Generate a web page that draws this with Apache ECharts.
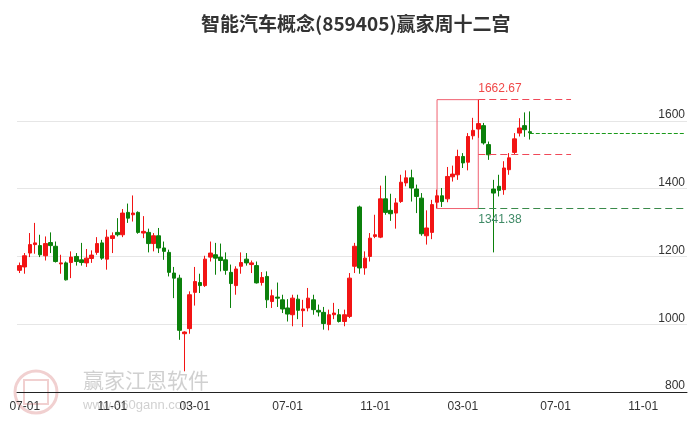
<!DOCTYPE html>
<html><head><meta charset="utf-8">
<script src="https://cdn.jsdelivr.net/npm/echarts@6/dist/echarts.min.js"></script>
<style>html,body{margin:0;padding:0;background:#fff}#c{width:689px;height:427px}</style>
</head><body><div id="c"></div>
<script>
// weekly categories (Monday of each trading week; holiday-closed weeks omitted)
const weeks = [
'2023-06-19','2023-06-26','2023-07-03','2023-07-10','2023-07-17','2023-07-24','2023-07-31','2023-08-07','2023-08-14','2023-08-21',
'2023-08-28','2023-09-04','2023-09-11','2023-09-18','2023-09-25','2023-10-09','2023-10-16','2023-10-23','2023-10-30','2023-11-06',
'2023-11-13','2023-11-20','2023-11-27','2023-12-04','2023-12-11','2023-12-18','2023-12-25','2024-01-01','2024-01-08','2024-01-15',
'2024-01-22','2024-01-29','2024-02-05','2024-02-19','2024-02-26','2024-03-04','2024-03-11','2024-03-18','2024-03-25','2024-04-01',
'2024-04-08','2024-04-15','2024-04-22','2024-04-29','2024-05-06','2024-05-13','2024-05-20','2024-05-27','2024-06-03','2024-06-10',
'2024-06-17','2024-06-24','2024-07-01','2024-07-08','2024-07-15','2024-07-22','2024-07-29','2024-08-05','2024-08-12','2024-08-19',
'2024-08-26','2024-09-02','2024-09-09','2024-09-16','2024-09-23','2024-09-30','2024-10-07','2024-10-14','2024-10-21','2024-10-28',
'2024-11-04','2024-11-11','2024-11-18','2024-11-25','2024-12-02','2024-12-09','2024-12-16','2024-12-23','2024-12-30','2025-01-06',
'2025-01-13','2025-01-20','2025-01-27','2025-02-03','2025-02-10','2025-02-17','2025-02-24','2025-03-03','2025-03-10','2025-03-17',
'2025-03-24','2025-03-31','2025-04-07','2025-04-14','2025-04-21','2025-04-28','2025-05-05','2025-05-12','2025-05-19','2025-05-26',
'2025-06-02','2025-06-09','2025-06-16','2025-06-23','2025-06-30','2025-07-07','2025-07-14','2025-07-21','2025-07-28','2025-08-04',
'2025-08-11','2025-08-18','2025-08-25','2025-09-01','2025-09-08','2025-09-15','2025-09-22','2025-09-29','2025-10-06','2025-10-13',
'2025-10-20','2025-10-27','2025-11-03','2025-11-10','2025-11-17','2025-11-24','2025-12-01','2025-12-08','2025-12-15','2025-12-22'
];
const opens = [
1159,1169,1210,1235,1232,1202,1241,1230,1178,1181,
1182,1200,1190,1181,1194,1212,1240,1192,1253,1271,
1264,1330,1323,1330,1269,1271,1238,1261,1225,1212,
1151,1136,972,987,1094,1123,1114,1198,1205,1198,
1190,1153,1114,1171,1192,1176,1173,1123,1141,1067,
1080,1072,1048,1028,1074,1040,1048,1072,1041,1035,
999,1028,1028,1008,1023,1171,1346,1166,1200,1259,
1257,1370,1336,1328,1362,1417,1432,1399,1372,1261,
1271,1360,1379,1370,1435,1441,1495,1478,1556,1576,
1586,1530,1399,1407,1397,1456,1507,1564,1586,1568];
const closes = [
1173,1202,1235,1240,1205,1238,1232,1185,1181,1131,
1198,1185,1182,1195,1204,1238,1195,1257,1261,1264,
1328,1313,1328,1271,1274,1238,1261,1225,1215,1153,
1136,982,977,1087,1126,1114,1192,1210,1195,1188,
1159,1120,1163,1182,1181,1181,1122,1138,1072,1084,
1077,1045,1030,1077,1041,1045,1077,1043,1036,1002,
1028,1033,1008,1028,1136,1230,1166,1195,1254,1264,
1370,1330,1326,1358,1419,1432,1402,1377,1267,1284,
1353,1379,1362,1436,1443,1495,1476,1554,1572,1592,
1535,1500,1387,1395,1461,1491,1547,1579,1574,1565];
const lows = [
1151,1149,1198,1208,1198,1188,1210,1182,1149,1129,
1136,1173,1173,1169,1181,1205,1190,1161,1210,1259,
1257,1299,1303,1267,1254,1212,1215,1210,1190,1141,
1077,954,861,972,1055,1092,1110,1185,1146,1156,
1146,1048,1087,1149,1173,1151,1120,1114,1048,1048,
1051,1033,1008,994,1015,992,1038,1028,1023,984,
982,1015,1005,994,1018,1151,1149,1146,1185,1254,
1254,1323,1305,1282,1358,1407,1362,1328,1261,1235,
1251,1341.38,1346,1360,1421,1426,1461,1454,1545,1550,
1530,1485,1212,1377,1382,1441,1500,1554,1553,1545];
const highs = [
1182,1210,1269,1299,1264,1259,1271,1244,1205,1185,
1215,1210,1240,1222,1218,1257,1249,1279,1271,1313,
1340,1356,1380,1333,1319,1282,1269,1284,1244,1220,
1169,1146,979,1097,1169,1149,1202,1244,1240,1238,
1212,1176,1171,1212,1210,1188,1185,1154,1156,1102,
1123,1087,1074,1087,1087,1072,1107,1087,1058,1051,
1043,1063,1045,1043,1151,1240,1350,1215,1269,1323,
1409,1438,1385,1372,1441,1454,1456,1412,1387,1336,
1367,1397,1402,1464,1468,1515,1505,1564,1609,1662.67,
1594,1539,1426,1441,1481,1505,1564,1608,1625,1628];
const tickMonths = ['03','07','11'];
const lowIdx = 81, highIdx = 89, lineEndIdx = 107;
const title = '智能汽车概念(859405)赢家周十二宫';

function tickLabel(idx){
  const s = weeks[idx]; if(!s) return null;
  const d0 = new Date(s + 'T00:00:00Z');
  for(let k=0;k<7;k++){
    const d = new Date(d0.getTime() + k*86400000);
    const m = String(d.getUTCMonth()+1).padStart(2,'0');
    if(d.getUTCDate()===1 && tickMonths.indexOf(m)>=0) return m + '-01';
  }
  return null;
}
const highV = highs[highIdx], lowV = lows[lowIdx], midV = (highV+lowV)/2;
const lastIdx = closes.length-1, lastClose = closes[lastIdx], endIdx = weeks.length-1;
const kdata = opens.map((o,i)=>[o, closes[i], lows[i], highs[i]]);
const red='#f21414', green='#0b800b';

const chart = echarts.init(document.getElementById('c'));
chart.setOption({
  animation:false,
  backgroundColor:'#fff',
  title:{text:title,left:196,top:9,textStyle:{fontSize:19,fontWeight:'bold',color:'#333',fontFamily:'Noto Sans CJK SC'}},
  grid:{left:17,right:2,top:87,bottom:35},
  graphic:[
    {type:'circle',z:-10,shape:{cx:36,cy:392,r:21},style:{fill:'none',stroke:'rgba(215,120,120,0.35)',lineWidth:3}},
    {type:'rect',z:-10,shape:{x:24,y:380,width:24,height:24},style:{fill:'none',stroke:'rgba(215,120,120,0.35)',lineWidth:2}},
    {type:'text',z:-10,left:83,top:370,style:{text:'赢家江恩软件',font:'21px "Noto Sans CJK SC"',fill:'rgba(150,150,150,0.45)'}},
    {type:'text',z:-10,left:83,top:399,style:{text:'www.360gann.com',font:'13px "Liberation Sans"',fill:'rgba(150,150,150,0.45)'}}
  ],
  xAxis:{type:'category',data:weeks,boundaryGap:true,
    axisLine:{lineStyle:{color:'#222',width:1}},
    axisTick:{interval:(i)=>tickLabel(i)!==null,alignWithLabel:true,length:6,lineStyle:{color:'#222'}},
    axisLabel:{interval:(i)=>tickLabel(i)!==null,formatter:(v,i)=>tickLabel(i)||'',color:'#333',fontSize:12,margin:9,fontFamily:'Liberation Sans'},
    splitLine:{show:false}},
  yAxis:{type:'value',position:'right',min:800,max:1700,interval:200,
    axisLine:{show:false},axisTick:{show:false},
    splitLine:{show:true,showMinLine:false,showMaxLine:false,lineStyle:{color:'#e6e6e6',width:1}},
    axisLabel:{inside:true,margin:2,verticalAlign:'bottom',showMaxLabel:false,formatter:(v)=>String(v),color:'#333',fontSize:12,fontFamily:'Liberation Sans'}},
  series:[{
    type:'candlestick',data:kdata,barWidth:4,
    itemStyle:{color:red,color0:green,borderColor:red,borderColor0:green,borderWidth:1},
    markArea:{silent:true,itemStyle:{color:'rgba(0,0,0,0)',borderColor:'#f06070',borderWidth:1},
      data:[[{coord:[weeks[lowIdx],lowV]},{coord:[weeks[highIdx],highV]}]]},
    markLine:{symbol:'none',silent:true,animation:false,
      data:[
        [{coord:[weeks[highIdx],highV],lineStyle:{color:'#f04858',type:[7,4],width:1},
          label:{show:true,position:'insideStartTop',formatter:highV.toFixed(2),color:'#f04848',fontSize:12,fontFamily:'Liberation Sans',distance:[0,5]}},
         {coord:[weeks[lineEndIdx],highV]}],
        [{coord:[weeks[highIdx],midV],lineStyle:{color:'#f04858',type:[7,4],width:1},label:{show:false}},
         {coord:[weeks[lineEndIdx],midV]}],
        [{coord:[weeks[highIdx],lowV],lineStyle:{color:'#3a8a4a',type:[7,4],width:1},
          label:{show:true,position:'insideStartBottom',formatter:lowV.toFixed(2),color:'#3f8a66',fontSize:12,fontFamily:'Liberation Sans',distance:[0,5]}},
         {coord:[weeks[endIdx],lowV]}],
        [{coord:[weeks[lastIdx],lastClose],lineStyle:{color:'#1a9a1a',type:[4,2],width:1},label:{show:false}},
         {coord:[weeks[endIdx],lastClose]}]
      ]}
  }]
});
</script></body></html>
